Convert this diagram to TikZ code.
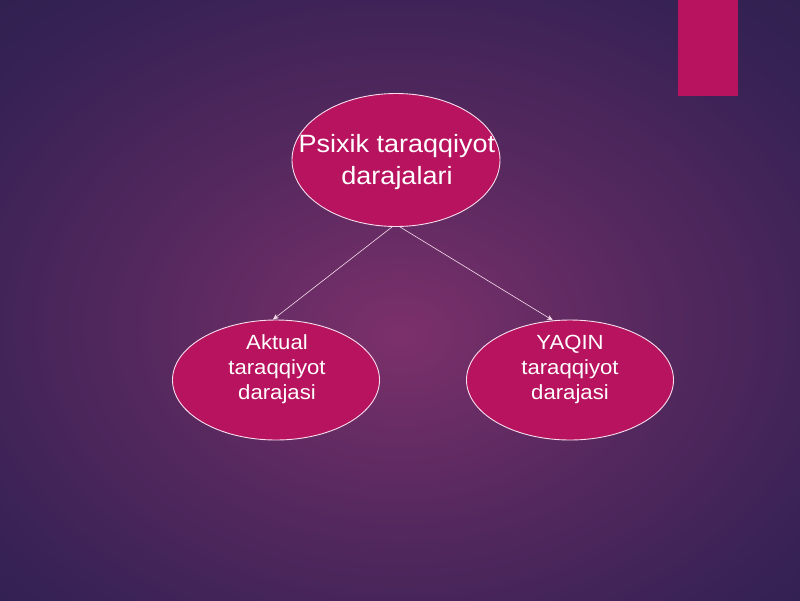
\documentclass[tikz,border=0pt]{standalone}
\usepackage{fontspec}
\newfontfamily\slidefont[FakeStretch=1.08]{Liberation Sans}
\usetikzlibrary{shapes.geometric,arrows.meta}
\definecolor{bgc}{HTML}{7C306B}
\definecolor{bgm}{HTML}{57295F}
\definecolor{bgd}{HTML}{392256}
\definecolor{bgo}{HTML}{221E47}
\definecolor{mag}{HTML}{B8135F}
\definecolor{edge}{HTML}{F6DDEB}
\pgfdeclareradialshading{bgshade}{\pgfpoint{0bp}{-3bp}}{color(0bp)=(bgc); color(15bp)=(bgm); color(30bp)=(bgd); color(48bp)=(bgo); color(80bp)=(bgo)}
\tikzset{
  bubble/.style={ellipse, draw=edge, line width=0.9pt, fill=mag, inner sep=0pt},
  bigtxt/.style={text=white, font=\slidefont\fontsize{25}{32}\selectfont, align=center, inner sep=0pt},
  smalltxt/.style={text=white, font=\slidefont\fontsize{20.5}{25}\selectfont, align=center, inner sep=0pt},
  conn/.style={draw=edge, line width=0.6pt, -{Stealth[length=6pt,width=5pt]}}
}
\begin{document}
\begin{tikzpicture}[x=1pt,y=-1pt]
\useasboundingbox (0,0) rectangle (800,600);
\shade[shading=bgshade] (0,0) rectangle (800,600);
\fill[mag] (678,0) rectangle (738,96);
\node[bubble, minimum width=208pt, minimum height=133pt] (top) at (396,160) {};
\node[bubble, minimum width=207pt, minimum height=120pt] (left) at (276,380) {};
\node[bubble, minimum width=207pt, minimum height=120pt] (right) at (570,380) {};
\node[bigtxt] (toptxt) at (397,162) {Psixik taraqqiyot\\darajalari};
\node[smalltxt] (lefttxt) at (277,369) {Aktual\\taraqqiyot\\darajasi};
\node[smalltxt] (righttxt) at (570,369) {YAQIN\\taraqqiyot\\darajasi};
\draw[conn] ([xshift=-4pt]top.south) -- (left.93);
\draw[conn] ([xshift=4pt]top.south) -- (right.106);
\end{tikzpicture}
\end{document}
